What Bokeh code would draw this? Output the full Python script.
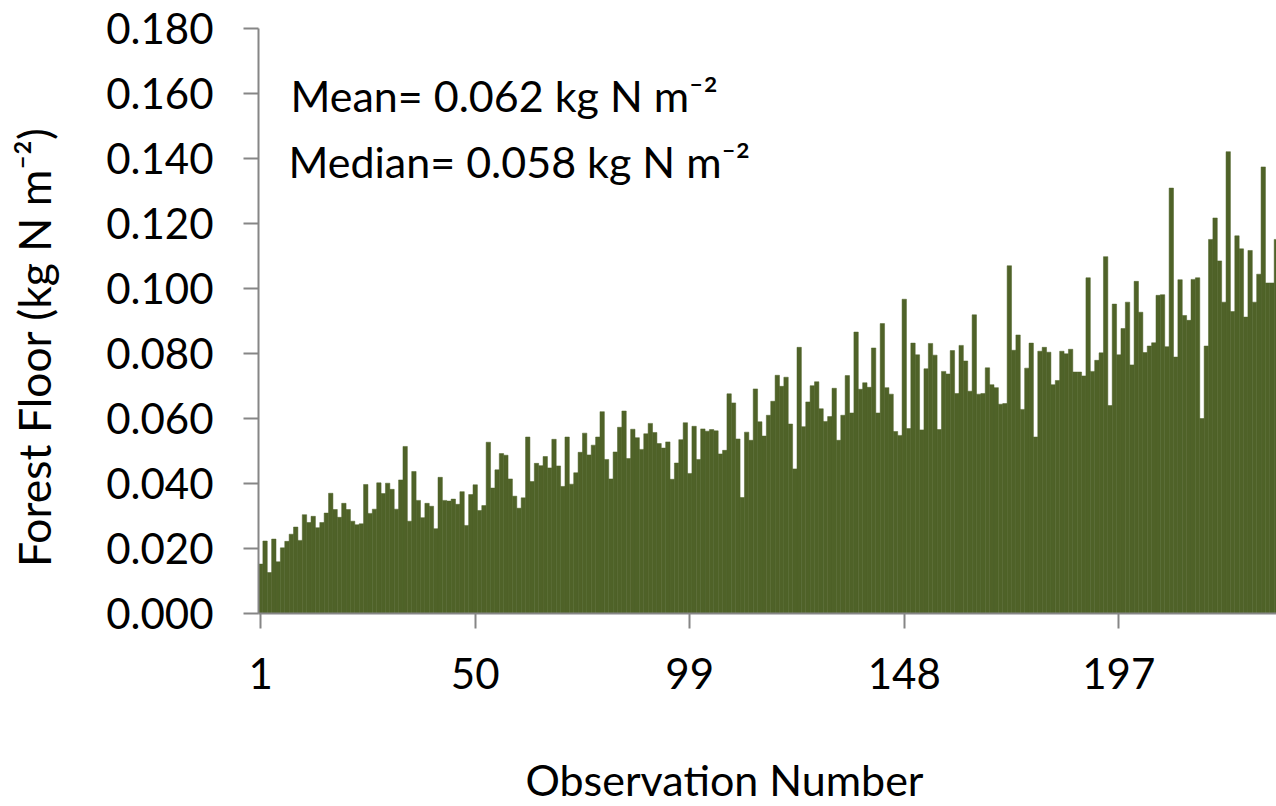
import math

from bokeh.embed import file_html
from bokeh.layouts import column, row
from bokeh.models import ColumnDataSource, FixedTicker, Label, NumeralTickFormatter, Range1d
from bokeh.plotting import figure
from bokeh.resources import INLINE

# Forest floor nitrogen per observation (kg N m-2), in observation order
obs_values = [
    0.0152, 0.0223, 0.0126, 0.0229, 0.0159, 0.0202, 0.0222, 0.0244, 0.0266, 0.0225,
    0.0304, 0.0280, 0.0299, 0.0264, 0.0280, 0.0309, 0.0370, 0.0320, 0.0296, 0.0339,
    0.0320, 0.0284, 0.0273, 0.0276, 0.0397, 0.0308, 0.0321, 0.0402, 0.0369, 0.0401,
    0.0382, 0.0321, 0.0411, 0.0514, 0.0284, 0.0437, 0.0348, 0.0295, 0.0339, 0.0330,
    0.0261, 0.0419, 0.0348, 0.0346, 0.0352, 0.0336, 0.0375, 0.0271, 0.0366, 0.0396,
    0.0317, 0.0332, 0.0527, 0.0386, 0.0442, 0.0492, 0.0487, 0.0414, 0.0361, 0.0324,
    0.0356, 0.0543, 0.0406, 0.0462, 0.0455, 0.0483, 0.0448, 0.0536, 0.0454, 0.0391,
    0.0543, 0.0398, 0.0433, 0.0496, 0.0555, 0.0488, 0.0518, 0.0543, 0.0621, 0.0474,
    0.0414, 0.0497, 0.0573, 0.0623, 0.0477, 0.0567, 0.0541, 0.0505, 0.0553, 0.0585,
    0.0557, 0.0523, 0.0509, 0.0528, 0.0413, 0.0463, 0.0535, 0.0587, 0.0431, 0.0576,
    0.0474, 0.0568, 0.0561, 0.0566, 0.0562, 0.0491, 0.0502, 0.0676, 0.0648, 0.0537,
    0.0357, 0.0558, 0.0533, 0.0691, 0.0590, 0.0546, 0.0610, 0.0653, 0.0733, 0.0699,
    0.0727, 0.0583, 0.0445, 0.0819, 0.0575, 0.0651, 0.0701, 0.0713, 0.0630, 0.0591,
    0.0606, 0.0693, 0.0533, 0.0610, 0.0732, 0.0617, 0.0866, 0.0690, 0.0710, 0.0696,
    0.0817, 0.0617, 0.0892, 0.0695, 0.0675, 0.0560, 0.0548, 0.0967, 0.0569, 0.0832,
    0.0796, 0.0565, 0.0753, 0.0831, 0.0795, 0.0566, 0.0745, 0.0737, 0.0809, 0.0677,
    0.0825, 0.0777, 0.0684, 0.0919, 0.0675, 0.0677, 0.0756, 0.0704, 0.0695, 0.0644,
    0.0646, 0.1070, 0.0810, 0.0857, 0.0628, 0.0755, 0.0832, 0.0543, 0.0807, 0.0819,
    0.0804, 0.0704, 0.0717, 0.0807, 0.0799, 0.0813, 0.0743, 0.0743, 0.0731, 0.1033,
    0.0745, 0.0779, 0.0802, 0.1098, 0.0640, 0.0952, 0.0796, 0.0877, 0.0958, 0.0765,
    0.1022, 0.0927, 0.0803, 0.0823, 0.0833, 0.0979, 0.0981, 0.0821, 0.1309, 0.0789,
    0.1027, 0.0917, 0.0902, 0.1028, 0.1033, 0.0600, 0.0823, 0.1151, 0.1217, 0.1085,
    0.0958, 0.1421, 0.0929, 0.1162, 0.1122, 0.0912, 0.1117, 0.0958, 0.1044, 0.1374,
    0.1017, 0.1017, 0.1151,
]
obs_number = list(range(1, len(obs_values) + 1))

x_tick_values = [1, 50, 99, 148, 197]
y_tick_values = [0.0, 0.02, 0.04, 0.06, 0.08, 0.10, 0.12, 0.14, 0.16, 0.18]

x_title = "Observation Number"
y_title = "Forest Floor (kg N m\u207b\u00b2)"
mean_text = "Mean= 0.062 kg N m\u207b\u00b2"
median_text = "Median= 0.058 kg N m\u207b\u00b2"

FONT = "Lato"
BAR_COLOR = "#4F6228"
AXIS_COLOR = "#868686"

# overall page geometry (pixels)
W, H = 1276, 806
TITLE_STRIP_W = 75          # strip left of the chart holding the y title
TITLE_STRIP_H = 66          # strip below the chart holding the x title
CHART_W = W - TITLE_STRIP_W
CHART_H = H - TITLE_STRIP_H

# plot frame placement inside the chart
FRAME_LEFT, FRAME_TOP, FRAME_BOTTOM = 258, 28, 613
frame_w = W - FRAME_LEFT
frame_h = FRAME_BOTTOM - FRAME_TOP
bar_px = 4.378
x_start = 0.5
x_end = x_start + frame_w / bar_px
y_start, y_end = 0.0, 0.18


def data_x(px):
    return x_start + (px - FRAME_LEFT) * (x_end - x_start) / frame_w


def data_y(py):
    return y_start + (FRAME_BOTTOM - py) * (y_end - y_start) / frame_h


def text_strip(width, height, x0, y0):
    """Blank figure whose data coordinates are page pixels (y grows downward)."""
    f = figure(width=width, height=height, output_backend="svg", toolbar_location=None,
               x_axis_type=None, y_axis_type=None,
               x_range=Range1d(x0, x0 + width), y_range=Range1d(y0 + height, y0),
               min_border=0, min_border_left=0, min_border_right=0,
               min_border_top=0, min_border_bottom=0)
    f.outline_line_color = None
    f.background_fill_color = "white"
    f.border_fill_color = "white"
    return f


source = ColumnDataSource(data=dict(obs=obs_number, value=obs_values))

p = figure(
    width=CHART_W,
    height=CHART_H,
    output_backend="svg",
    toolbar_location=None,
    x_range=Range1d(x_start, x_end),
    y_range=Range1d(y_start, y_end),
    min_border_left=FRAME_LEFT - TITLE_STRIP_W,
    min_border_right=0,
    min_border_top=FRAME_TOP,
    min_border_bottom=CHART_H - FRAME_BOTTOM,
)
p.outline_line_color = None
p.background_fill_color = "white"
p.border_fill_color = "white"
p.xgrid.visible = False
p.ygrid.visible = False

p.vbar(x="obs", top="value", bottom=0, width=1.0, source=source,
       fill_color=BAR_COLOR, line_color=BAR_COLOR, line_width=0.5)

for ax in (p.xaxis[0], p.yaxis[0]):
    ax.axis_line_color = AXIS_COLOR
    ax.axis_line_width = 2
    ax.major_tick_line_color = AXIS_COLOR
    ax.major_tick_line_width = 2
    ax.major_tick_out = 15
    ax.major_tick_in = 0
    ax.minor_tick_line_color = None
    ax.major_label_text_font = FONT
    ax.major_label_text_font_size = "42px"
    ax.major_label_text_color = "black"

p.yaxis.ticker = FixedTicker(ticks=y_tick_values)
p.yaxis.formatter = NumeralTickFormatter(format="0.000")
p.yaxis.major_label_standoff = 30

p.xaxis.ticker = FixedTicker(ticks=x_tick_values)
p.xaxis.major_label_standoff = 29

# summary statistics written inside the plot area
p.add_layout(Label(x=data_x(290), y=data_y(95), text=mean_text,
                   text_font=FONT, text_font_size="43px", text_color="black",
                   text_align="left", text_baseline="alphabetic"))
p.add_layout(Label(x=data_x(288), y=data_y(161), text=median_text,
                   text_font=FONT, text_font_size="43px", text_color="black",
                   text_align="left", text_baseline="alphabetic"))

# y-axis title, reading bottom to top
ytitle = text_strip(TITLE_STRIP_W, CHART_H, 0, 0)
ytitle.add_layout(Label(x=33, y=403, text=y_title, angle=math.pi / 2,
                        text_font=FONT, text_font_size="44.5px", text_color="black",
                        text_align="center", text_baseline="middle"))

# x-axis title
xtitle = text_strip(W, TITLE_STRIP_H, 0, CHART_H)
xtitle.add_layout(Label(x=724, y=779, text=x_title,
                        text_font=FONT, text_font_size="43px", text_color="black",
                        text_align="center", text_baseline="alphabetic"))

page = column(row(ytitle, p, spacing=0), xtitle, spacing=0)

open("out.html", "w").write(file_html(page, INLINE))
